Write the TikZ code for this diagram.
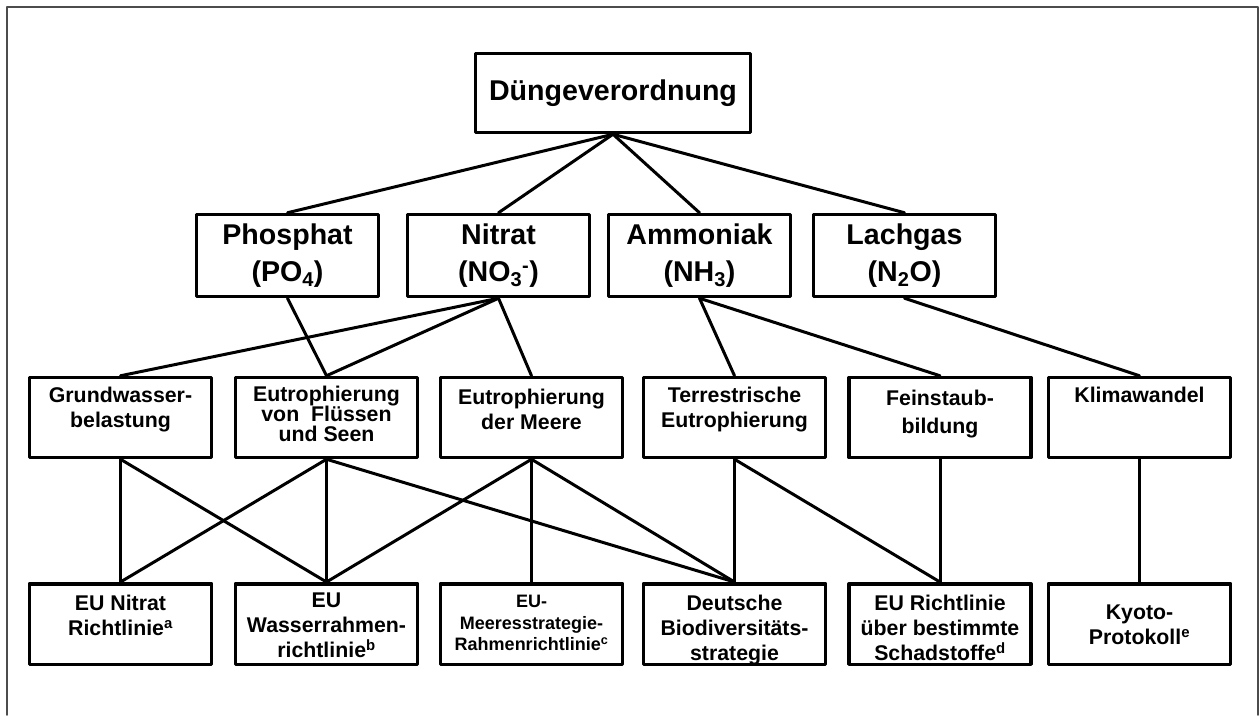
\documentclass[tikz,border=0pt]{standalone}
\usepackage{fontspec}
\setmainfont{Liberation Sans}
\usetikzlibrary{positioning}
\tikzset{
  kasten/.style={draw, line width=3.5pt, minimum width=182pt, minimum height=80pt, inner sep=0pt},
  gross/.style={font=\fontsize{28.6}{37}\selectfont\bfseries, align=center},
  klein/.style={font=\fontsize{21.3}{25}\selectfont\bfseries, align=center, inner sep=0pt},
  linie/.style={line width=3pt},
}
\begin{document}
\begin{tikzpicture}[x=1pt, y=-1pt, line join=round, line cap=round]
	\useasboundingbox (0,0) rectangle (1260,715);
	\draw[black!70, line width=1.5pt] (7,715)--(7,7)--(1258,7)--(1258,715);
	% Ebene 1
	\node[kasten, gross, minimum width=275pt, minimum height=79pt] (DV) at (613,93) {Düngeverordnung};
	% Ebene 2
	\node[kasten, gross, minimum height=82pt] (P) at (287.5,255.5) {Phosphat\\(PO\textsubscript{4})};
	\node[kasten, gross, minimum height=82pt] (N) at (498.5,255.5) {Nitrat\\(NO\textsubscript{3}\textsuperscript{-})};
	\node[kasten, gross, minimum height=82pt] (A) at (699.5,255.5) {Ammoniak\\(NH\textsubscript{3})};
	\node[kasten, gross, minimum height=82pt] (L) at (904.5,255.5) {Lachgas\\(N\textsubscript{2}O)};
	% Ebene 3
	\node[kasten] (GW) at (120.5,417.5) {};
	\node[kasten] (FS) at (326.5,417.5) {};
	\node[kasten] (MR) at (531.5,417.5) {};
	\node[kasten] (TE) at (734.5,417.5) {};
	\node[kasten] (FB) at (940,417.5) {};
	\node[kasten] (KW) at (1139.5,417.5) {};
	\node[klein, below=11pt of GW.north] {Grundwasser-\\belastung};
	\node[klein, below=10pt of FS.north, font=\fontsize{21.3}{20}\selectfont\bfseries] {Eutrophierung\\von~ Flüssen\\und Seen};
	\node[klein, below=13pt of MR.north] {Eutrophierung\\der Meere};
	\node[klein, below=11pt of TE.north] {Terrestrische\\Eutrophierung};
	\node[klein, below=14pt of FB.north, font=\fontsize{21.3}{28}\selectfont\bfseries] {Feinstaub-\\bildung};
	\node[klein, below=11pt of KW.north] {Klimawandel};
	% Ebene 4
	\node[kasten, minimum height=80.5pt] (NR) at (120.5,624) {};
	\node[kasten, minimum height=80.5pt] (WR) at (326.5,624) {};
	\node[kasten, minimum height=80.5pt] (MS) at (531.5,624) {};
	\node[kasten, minimum height=80.5pt] (BD) at (734.5,624) {};
	\node[kasten, minimum height=80.5pt] (SR) at (940,624) {};
	\node[kasten, minimum height=80.5pt] (KP) at (1139.5,624) {};
	\node[klein, below=13pt of NR.north] {EU Nitrat\\Richtlinie\textsuperscript{a}};
	\node[klein, below=11pt of WR.north] {EU\\Wasserrahmen-\\richtlinie\textsuperscript{b}};
	\node[klein, below=13pt of MS.north, font=\fontsize{18}{21.5}\selectfont\bfseries] {EU-\\Meeresstrategie-\\Rahmenrichtlinie\textsuperscript{c}};
	\node[klein, below=13pt of BD.north] {Deutsche\\Biodiversitäts-\\strategie};
	\node[klein, below=13pt of SR.north] {EU Richtlinie\\über bestimmte\\Schadstoffe\textsuperscript{d}};
	\node[klein, below=23pt of KP.north] {Kyoto-\\Protokoll\textsuperscript{e}};
	% Verbindungen
	\draw[linie] (DV.south)--(P.north);
	\draw[linie] (DV.south)--(N.north);
	\draw[linie] (DV.south)--(A.north);
	\draw[linie] (DV.south)--(L.north);
	\draw[linie] (P.south)--(FS.north);
	\draw[linie] (N.south)--(GW.north);
	\draw[linie] (N.south)--(FS.north);
	\draw[linie] (N.south)--(MR.north);
	\draw[linie] (A.south)--(TE.north);
	\draw[linie] (A.south)--(FB.north);
	\draw[linie] (L.south)--(KW.north);
	\draw[linie] (GW.south)--(NR.north);
	\draw[linie] (GW.south)--(WR.north);
	\draw[linie] (FS.south)--(NR.north);
	\draw[linie] (FS.south)--(WR.north);
	\draw[linie] (FS.south)--(BD.north);
	\draw[linie] (MR.south)--(WR.north);
	\draw[linie] (MR.south)--(MS.north);
	\draw[linie] (MR.south)--(BD.north);
	\draw[linie] (TE.south)--(BD.north);
	\draw[linie] (TE.south)--(SR.north);
	\draw[linie] (FB.south)--(SR.north);
	\draw[linie] (KW.south)--(KP.north);
\end{tikzpicture}
\end{document}
